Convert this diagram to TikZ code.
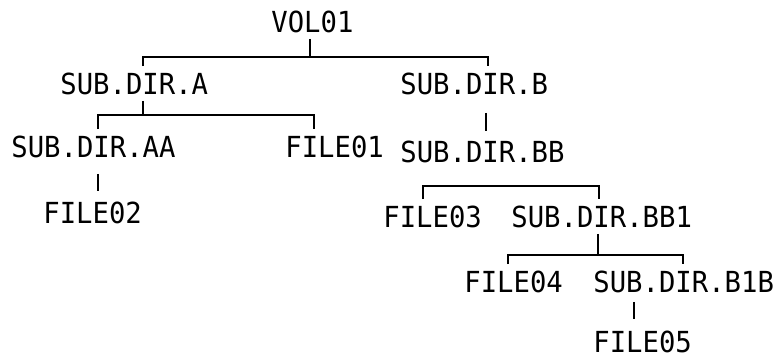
\documentclass[tikz,border=0pt]{standalone}
\usepackage{fontspec}
\newfontfamily\dirfont[FakeStretch=0.94]{DejaVu Sans Mono}
\usetikzlibrary{positioning,calc}

\begin{document}
\begin{tikzpicture}[x=1pt, y=-1pt, thick]

        \tikzstyle{entry} = [anchor=base west, inner xsep=0pt, inner ysep=6pt, font=\dirfont\fontsize{29}{30}\selectfont]
        \tikzstyle{link} = [line width=1.8pt]

        \useasboundingbox (0,0) rectangle (773,360);

        % directory entries
        \node [entry] (vol) at (271,32) {VOL01};
        \node [entry] (a) at (60,94) {SUB.DIR.A};
        \node [entry] (b) at (400,94) {SUB.DIR.B};
        \node [entry] (aa) at (11,157) {SUB.DIR.AA};
        \node [entry] (f1) at (285,157) {FILE01};
        \node [entry] (bb) at (400,162) {SUB.DIR.BB};
        \node [entry] (f2) at (43,223) {FILE02};
        \node [entry] (f3) at (383,227) {FILE03};
        \node [entry] (bb1) at (511,227) {SUB.DIR.BB1};
        \node [entry] (f4) at (464,292) {FILE04};
        \node [entry] (b1b) at (593,292) {SUB.DIR.B1B};
        \node [entry] (f5) at (593,352) {FILE05};

        % columns of the ticks
        \coordinate (xa) at (143,0);
        \coordinate (xb) at (488,0);
        \coordinate (xaa) at (98,0);
        \coordinate (xf1) at (314,0);
        \coordinate (xf3) at (423,0);
        \coordinate (xbb1) at (599,0);
        \coordinate (xf4) at (508,0);
        \coordinate (xb1b) at (683,0);
        \coordinate (xs) at (634,0);

        % bars
        \coordinate (volbar) at (310,57);
        \coordinate (abar) at (143,115);
        \coordinate (bbbar) at (511,186);
        \coordinate (bb1bar) at (598,255);

        \draw [link] (vol.south -| volbar) -- (volbar);
        \draw [link] (a.north -| xa) |- (volbar) -| (b.north -| xb);

        \draw [link] (a.south -| xa) -- (abar);
        \draw [link] (aa.north -| xaa) |- (abar) -| (f1.north -| xf1);
        \draw [link, shorten <=10pt, shorten >=4pt] (aa.south -| xaa) -- (f2.north -| xaa);

        \draw [link, shorten <=12pt, shorten >=3pt] (b.south -| 486,0) -- (bb.north -| 486,0);
        \draw [link] (f3.north -| xf3) |- (bbbar) -| (bb1.north -| xbb1);

        \draw [link] (bb1.south -| bb1bar) -- (bb1bar);
        \draw [link] (f4.north -| xf4) |- (bb1bar) -| (b1b.north -| xb1b);
        \draw [link, shorten <=3pt, shorten >=5pt] (b1b.south -| xs) -- (f5.north -| xs);

\end{tikzpicture}
\end{document}
